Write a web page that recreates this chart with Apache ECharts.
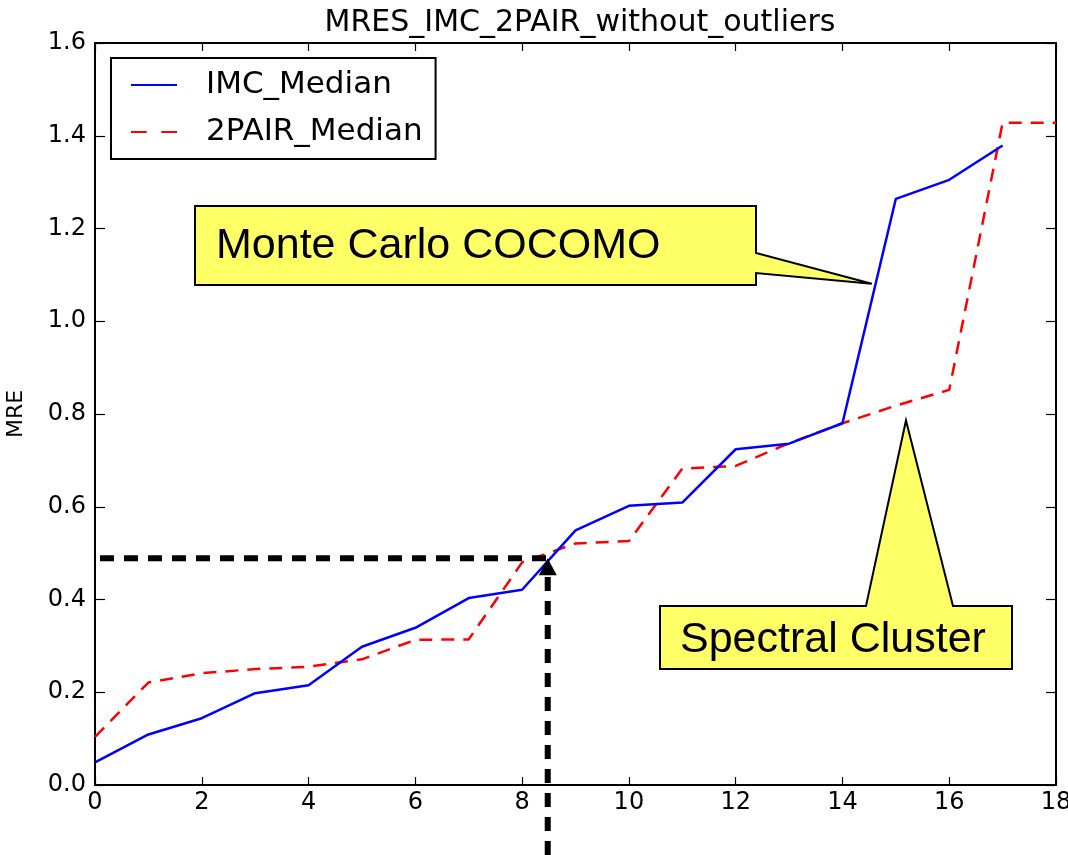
<!DOCTYPE html>
<html>
<head>
<meta charset="utf-8">
<script src="https://cdn.jsdelivr.net/npm/echarts@6/dist/echarts.min.js"></script>
<style>
  html, body { margin: 0; padding: 0; background: #fff; }
  #chart { width: 1068px; height: 855px; }
</style>
</head>
<body>
<div id="chart"></div>
<script>
// Sorted MRE medians per project index
const imcIndex = [0, 1, 2, 3, 4, 5, 6, 7, 8, 9, 10, 11, 12, 13, 14, 15, 16, 17];
const imcMedian = [0.049, 0.109, 0.144, 0.198, 0.215, 0.298, 0.339, 0.403, 0.421,
                   0.549, 0.602, 0.609, 0.724, 0.736, 0.780, 1.264, 1.305, 1.379];
const pairIndex = [0, 1, 2, 3, 4, 5, 6, 7, 8, 9, 10, 11, 12, 13, 14, 15, 16, 17, 18];
const pairMedian = [0.104, 0.221, 0.241, 0.250, 0.255, 0.271, 0.313, 0.314, 0.480,
                    0.521, 0.526, 0.682, 0.688, 0.737, 0.780, 0.818, 0.852, 1.428, 1.428];
const xTicks = [0, 2, 4, 6, 8, 10, 12, 14, 16, 18];
const yTicks = [0.0, 0.2, 0.4, 0.6, 0.8, 1.0, 1.2, 1.4, 1.6];

// Annotation anchor points (data space)
const crossPoint = [8.48, 0.489];
const cocomoTip = [14.55, 1.081];
const spectralTip = [15.19, 0.786];

const FONT = 'DejaVu Sans';
const chart = echarts.init(document.getElementById('chart'), null, { renderer: 'canvas' });

const frameLine = () => ({ show: true, onZero: false, lineStyle: { color: '#000', width: 2 } });
const innerTick = (len) => ({ show: true, inside: true, length: len, lineStyle: { color: '#000', width: 1.2 } });

// Legend samples: solid stroke and two-dash stroke
const solidIcon = 'path://M0,0H46V2H0Z';
const dashIcon = 'path://M0,0H14V2H0Z M27,0H41V2H27Z';

chart.setOption({
  backgroundColor: '#fff',
  animation: false,
  title: {
    text: 'MRES_IMC_2PAIR_without_outliers',
    left: 575, top: 3, textAlign: 'center',
    textStyle: { fontFamily: FONT, fontSize: 30, fontWeight: 'normal', color: '#000' }
  },
  grid: { left: 95, right: 12, top: 43, bottom: 70, containLabel: false, outerBoundsMode: 'none' },
  legend: {
    orient: 'vertical',
    left: 111, top: 58,
    padding: [11, 13, 11, 20],
    itemWidth: 46, itemHeight: 2.5, itemGap: 15,
    backgroundColor: '#fff',
    borderColor: '#000', borderWidth: 2, borderRadius: 0,
    textStyle: { fontFamily: FONT, fontSize: 31, color: '#000', lineHeight: 32, padding: [0, 0, 0, 24] },
    data: [
      { name: 'IMC_Median', icon: solidIcon },
      { name: '2PAIR_Median', icon: dashIcon }
    ]
  },
  xAxis: [
    {
      type: 'value', min: xTicks[0], max: xTicks[xTicks.length - 1], interval: 2,
      axisLine: frameLine(), axisTick: innerTick(8), splitLine: { show: false },
      axisLabel: { fontFamily: FONT, fontSize: 24, color: '#000', margin: 6 }
    },
    {
      type: 'value', position: 'top', min: xTicks[0], max: xTicks[xTicks.length - 1], interval: 2,
      axisLine: frameLine(), axisTick: innerTick(8), splitLine: { show: false }, axisLabel: { show: false }
    }
  ],
  yAxis: [
    {
      type: 'value', min: yTicks[0], max: yTicks[yTicks.length - 1], interval: 0.2,
      name: 'MRE', nameLocation: 'middle', nameGap: 68,
      nameTextStyle: { fontFamily: FONT, fontSize: 22, color: '#000' },
      axisLine: frameLine(), axisTick: innerTick(10), splitLine: { show: false },
      axisLabel: { fontFamily: FONT, fontSize: 24, color: '#000', margin: 9,
                   formatter: v => v.toFixed(1) }
    },
    {
      type: 'value', position: 'right', min: yTicks[0], max: yTicks[yTicks.length - 1], interval: 0.2,
      axisLine: frameLine(), axisTick: innerTick(10), splitLine: { show: false }, axisLabel: { show: false }
    }
  ],
  series: [
    {
      name: 'IMC_Median', type: 'line', xAxisIndex: 0, yAxisIndex: 0,
      data: imcIndex.map((x, i) => [x, imcMedian[i]]),
      showSymbol: false, symbol: 'none',
      lineStyle: { color: '#0000ff', width: 2.5 },
      itemStyle: { color: '#0000ff' },
      z: 3
    },
    {
      name: '2PAIR_Median', type: 'line', xAxisIndex: 0, yAxisIndex: 0,
      data: pairIndex.map((x, i) => [x, pairMedian[i]]),
      showSymbol: false, symbol: 'none',
      lineStyle: { color: '#ff0000', width: 2.5, type: [13, 9] },
      itemStyle: { color: '#ff0000' },
      z: 2
    }
  ]
});

// Callouts and the dashed reading arrow, placed through the axes' own scales
function px(pt) { return chart.convertToPixel({ xAxisIndex: 0, yAxisIndex: 0 }, pt); }

const origin = px([0, 0]);
const cross = px(crossPoint);
const cTip = px(cocomoTip);
const sTip = px(spectralTip);

const yellow = '#ffff66';
const calloutStroke = { stroke: '#000', lineWidth: 2 };
const labelFont = '43px "Liberation Sans", Arial, sans-serif';

// Monte Carlo COCOMO box with a pointer on its right side
const cb = { x: 195, y: 206, w: 561, h: 79 };
// Spectral Cluster box with a pointer on its top side
const sb = { x: 660, y: 606, w: 352, h: 63 };

chart.setOption({
  graphic: [
    {
      type: 'polygon', z: 10,
      shape: { points: [
        [cb.x, cb.y], [cb.x + cb.w, cb.y], [cb.x + cb.w, 253], cTip,
        [cb.x + cb.w, 273], [cb.x + cb.w, cb.y + cb.h], [cb.x, cb.y + cb.h]
      ] },
      style: Object.assign({ fill: yellow }, calloutStroke)
    },
    {
      type: 'text', z: 11, x: 216, y: cb.y + cb.h / 2 + 1,
      style: { text: 'Monte Carlo COCOMO', font: labelFont, fill: '#000', verticalAlign: 'middle' }
    },
    {
      type: 'polygon', z: 10,
      shape: { points: [
        [sb.x, sb.y], [866, sb.y], sTip, [953, sb.y], [sb.x + sb.w, sb.y],
        [sb.x + sb.w, sb.y + sb.h], [sb.x, sb.y + sb.h]
      ] },
      style: Object.assign({ fill: yellow }, calloutStroke)
    },
    {
      type: 'text', z: 11, x: 680, y: sb.y + sb.h / 2 + 3,
      style: { text: 'Spectral Cluster', font: labelFont, fill: '#000', verticalAlign: 'middle' }
    },
    {
      type: 'line', z: 12,
      shape: { x1: origin[0] + 5, y1: cross[1], x2: cross[0], y2: cross[1] },
      style: { stroke: '#000', lineWidth: 6, lineDash: [14, 10] }
    },
    {
      type: 'line', z: 12,
      shape: { x1: cross[0], y1: 855, x2: cross[0], y2: cross[1] + 16 },
      style: { stroke: '#000', lineWidth: 6, lineDash: [14, 10] }
    },
    {
      type: 'polygon', z: 12,
      shape: { points: [
        [cross[0], cross[1]], [cross[0] + 9, cross[1] + 17], [cross[0] - 9, cross[1] + 17]
      ] },
      style: { fill: '#000' }
    }
  ]
});
</script>
</body>
</html>
